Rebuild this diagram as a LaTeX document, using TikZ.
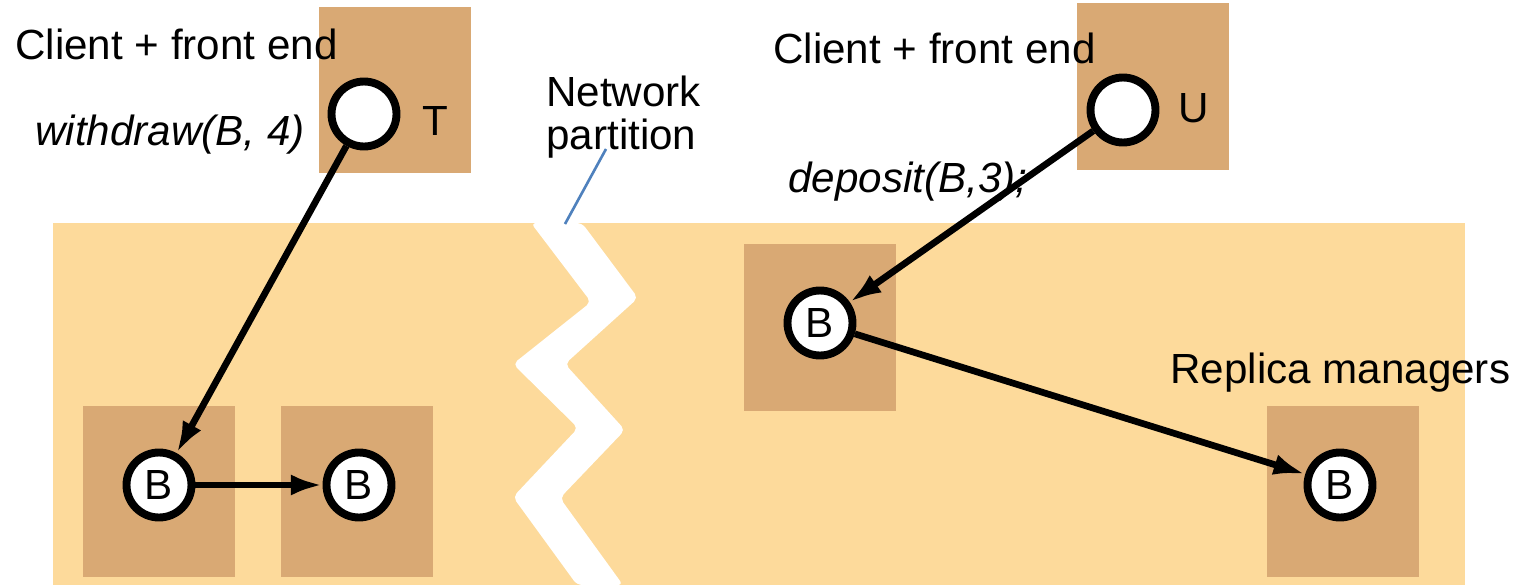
\documentclass[tikz,border=0pt]{standalone}
\usepackage{fontspec}
\setmainfont{Liberation Sans}
\usetikzlibrary{arrows.meta}

\definecolor{zone}{HTML}{FDDA9B}
\definecolor{site}{HTML}{D9A974}
\definecolor{cut}{HTML}{4F81BD}

\begin{document}
\begin{tikzpicture}[x=0.02cm,y=-0.02cm]

\tikzset{vertex/.style = {shape=circle,draw,fill=white,line width=4.5pt,minimum size=1.3cm,inner sep=0pt,font=\fontsize{24}{24}\selectfont}}
\tikzset{edge/.style = {-{Latex[length=18pt,width=12pt]},line width=3.8pt}}
\tikzset{txt/.style = {inner sep=0pt,anchor=base west,font=\fontsize{24}{24}\selectfont}}
\tikzset{site/.style = {fill=site}}

\useasboundingbox (0,0) rectangle (1522,585);

%network and the partition
\fill[zone] (53,223) rectangle (1465,585);
\fill[white, rounded corners=3pt] (531,223) -- (591,302) -- (513,364) -- (578,428) -- (513,497) -- (577,585)
  -- (623,585) -- (560,498) -- (625,430) -- (565,364) -- (638,298) -- (582,223) -- cycle;

%sites
\fill[site] (319,7) rectangle (471,173);
\fill[site] (1077,3) rectangle (1229,170);
\fill[site] (83,406) rectangle (235,577);
\fill[site] (281,406) rectangle (433,577);
\fill[site] (744,244) rectangle (896,411);
\fill[site] (1267,406) rectangle (1419,577);

%verticies
\node[vertex] (T) at (364,114) {};
\node[vertex] (U) at (1123,110) {};
\node[vertex] (B1) at (159,485) {B};
\node[vertex] (B2) at (359,485) {B};
\node[vertex] (B3) at (820,323) {B};
\node[vertex] (B4) at (1340,485) {B};

%labels
\node[txt] (tname) at (422,135) {T};
\node[txt] (uname) at (1178,122) {U};
\node[txt] (cfe1) at (15,59) {Client + front end};
\node[txt] (cfe2) at (773,63) {Client + front end};
\node[txt] (opT) at (35,145) {\itshape withdraw(B, 4)};
\node[txt] (opU) at (788,192) {\itshape deposit(B,3);};
\node[txt] (rms) at (1170,383) {Replica managers};
\node[txt, anchor=north west, align=left] (part) at (546,76) {Network\\partition};
\coordinate (gap) at (565,224);

%edges
\draw[cut, line width=1.5pt] (606,149) -- (gap);
\draw[edge] (T) -- (B1);
\draw[edge] (B1) -- (B2);
\draw[edge] (U) -- (B3);
\draw[edge] (B3) -- (B4);

\end{tikzpicture}
\end{document}
